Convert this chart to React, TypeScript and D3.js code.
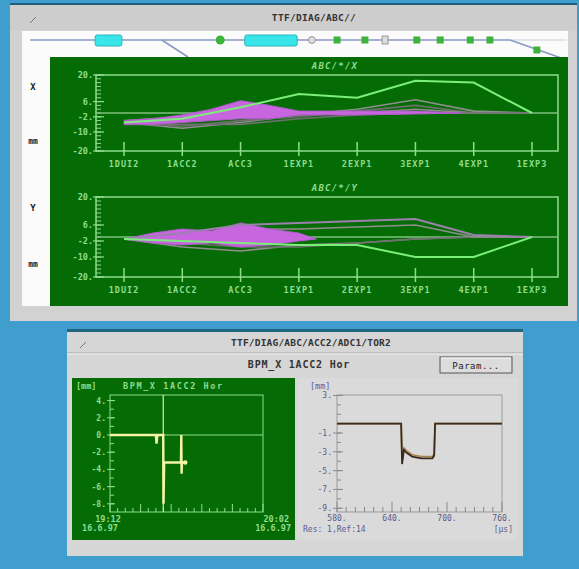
import React from 'react';
import * as d3 from 'd3';

const W = 579;
const H = 569;
const MONO = '"DejaVu Sans Mono", monospace';

// orbit overview: BPM sections along the linac
const sectionNames = ['1DUI2', '1ACC2', 'ACC3', '1EXP1', '2EXP1', '3EXP1', '4EXP1', '1EXP3'];
const orbitTicks = [20, 6, -2, -10, -20];

// horizontal plane (mm)
const xGreen = [-5, -3, 3, 10, 8, 17, 16, 0];
const xGrey = [
  [-5, -8, -5, -1, 2, 7, 1, 0],
  [-5, -7, -4, -2, 1, 4, 0, 0],
  [-4, -2, 1, 0, 0, 2, 0, 0],
  [-6, -6, -6, -3, -1, 0, 0, 0],
];
const xMagIdx = [0, 0.5, 1, 1.5, 2, 2.5, 3, 4, 5, 5.8];
const xMagUpper = [-4, -3, -1, 2, 6.5, 4, 1, 1, 1, 0];
const xMagLower = [-6, -6, -5, -4, -3, -3, -1, -1, -0.5, 0];

// vertical plane (mm)
const yGreen = [-1, -2, -3, -4, -4, -10, -10, 0];
const yGrey = [
  [-1, -5, -7, -4, -3, -1, 0, 0],
  [-1, -3, -5, -5, -3, -1, 0, 0],
  [-1, 1, 4, 4, 5, 6, 0, 0],
];
const yViolet = [-1, 2, 6, 7, 8, 9, 1, 0];
const yMagIdx = [0, 0.5, 1, 1.5, 2, 2.5, 3, 3.3];
const yMagUpper = [-1, 2, 4, 3, 7, 4, 2, -1];
const yMagLower = [-1, -3, -4, -3, -5, -4, -2, -1];

// beamline synoptic (position in % of linac length)
const blCavities = [[13.4, 18.3], [40.8, 50.4]];
const blGreenDots = [36.3];
const blGreyDots = [53.1];
const blGreenSquares = [57.7, 62.8, 72.3, 76.6, 82.1, 85.7];
const blGreySquares = [66.5];

// BPM time history (minutes after 19:12, mm)
const histT = [0, 15, 15.2, 15.5, 17.4, 17.5, 17.7, 17.9, 23.2, 23.3, 23.4, 23.5, 24.6];
const histV = [0, 0, -1, 0, 0, -8, -3.2, -3.2, -3.2, 0, -4.5, -3.2, -3.2];
const histCursor = 17.4;
const histTicks = [4, 2, 0, -2, -4, -6, -8];

// BPM raw signal (µs, mm)
const sigT = [580, 650, 651, 653, 656, 662, 672, 684, 686, 687, 760];
const sigV = [0, 0, -4.3, -2.8, -3.1, -3.5, -3.7, -3.7, -3.4, 0, 0];
const sigV2 = [0, 0, -4.0, -2.6, -2.9, -3.3, -3.5, -3.5, -3.2, 0, 0];
const sigYTicks = [3, -1, -3, -5, -7, -9];
const sigXTicks = [580, 640, 700, 760];

const LG = '#8fdc8f';

interface OrbitProps {
  title: string;
  top: number;
  bottom: number;
  green: number[];
  greys: number[][];
  violet?: number[];
  magIdx: number[];
  magUp: number[];
  magLo: number[];
}

const Orbit: React.FC<OrbitProps> = ({ title, top, bottom, green, greys, violet, magIdx, magUp, magLo }) => {
  const left = 96, right = 558;
  const x = d3.scaleLinear().domain([0, sectionNames.length - 1]).range([124, 532]);
  const y = d3.scaleLinear().domain([-20, 20]).range([bottom, top]);
  const line = d3.line<number>().x((_, i) => x(i)).y(d => y(d));
  const area = d3.area<number>().x((_, i) => x(magIdx[i])).y0((_, i) => y(magLo[i])).y1(d => y(d));
  const minor = d3.range(-20, 21, 2);
  return (
    <g>
      <text x={335} y={top - 6} fill={LG} fontSize={9} fontStyle="italic" fontWeight="bold" letterSpacing={1.2} textAnchor="middle" fontFamily={MONO}>{title}</text>
      <rect x={left} y={top} width={right - left} height={bottom - top} fill="none" stroke={LG} strokeWidth={1.5} />
      {minor.map(v => (
        <line key={v} x1={left} x2={left + 5} y1={y(v)} y2={y(v)} stroke={LG} strokeWidth={1} />
      ))}
      {orbitTicks.map(v => (
        <g key={v}>
          <line x1={left - 3} x2={left + 8} y1={y(v)} y2={y(v)} stroke={LG} strokeWidth={1.2} />
          <text x={left - 3} y={y(v) + 3} fill={LG} fontSize={8.5} fontWeight="bold" textAnchor="end" fontFamily={MONO}>{`${v}.`}</text>
        </g>
      ))}
      {sectionNames.map((n, i) => (
        <g key={n}>
          <line x1={x(i)} x2={x(i)} y1={bottom - 9} y2={bottom + 5} stroke={LG} strokeWidth={1.5} />
          <text x={x(i)} y={bottom + 16} fill={LG} fontSize={8.5} fontWeight="bold" letterSpacing={1} textAnchor="middle" fontFamily={MONO}>{n}</text>
        </g>
      ))}
      <line x1={left} x2={right} y1={y(0)} y2={y(0)} stroke="#7fbf7f" strokeWidth={1.5} />
      {greys.map((g, i) => (
        <path key={i} d={line(g) || ''} fill="none" stroke={i % 2 ? '#6f6f6f' : '#8e8e8e'} strokeWidth={1.6} />
      ))}
      <path d={area(magUp) || ''} fill="#c866e0" stroke="#b05ccc" strokeWidth={1} />
      {violet && <path d={line(violet) || ''} fill="none" stroke="#9c80ae" strokeWidth={2} />}
      <path d={line(green) || ''} fill="none" stroke="#7af07a" strokeWidth={2} />
    </g>
  );
};

const App: React.FC = () => {
  // beamline synoptic scale
  const bl = d3.scaleLinear().domain([0, 100]).range([22, 568]);
  const blY = 40;

  // history plot
  const hx = d3.scaleLinear().domain([0, 50]).range([110, 263]);
  const hy = d3.scaleLinear().domain([-8.95, 4.65]).range([512, 395]);
  const hLine = d3.line<number>().x((_, i) => hx(histT[i])).y(d => hy(d));

  // signal plot
  const sx = d3.scaleLinear().domain([580, 760]).range([337, 502]);
  const sy = d3.scaleLinear().domain([-9.4, 3.05]).range([512, 395]);
  const sLine = d3.line<number>().x((_, i) => sx(sigT[i])).y(d => sy(d));

  return (
    <svg width={W} height={H} style={{ position: 'fixed', left: 0, top: 0 }} fontFamily={MONO}>
      <rect width={W} height={H} fill="#3f9ecd" />

      {/* main window */}
      <rect x={10} y={3} width={567} height={2} fill="#1d5f7c" />
      <rect x={10} y={5} width={567} height={316} fill="#d2d2d2" />
      <rect x={10} y={5} width={567} height={25} fill="#cdcdcd" />
      <line x1={30} y1={23} x2={36} y2={17} stroke="#777" strokeWidth={1} />
      <text x={314} y={21} fontSize={9.5} fontWeight="bold" fill="#333" textAnchor="middle" letterSpacing={0.3}>TTF/DIAG/ABC//</text>
      <rect x={22} y={31} width={546} height={26} fill="#fbfbfb" />
      <line x1={bl(1.5)} x2={bl(89.4)} y1={blY} y2={blY} stroke="#8a98c4" strokeWidth={1.5} />
      <line x1={bl(89.4)} x2={bl(99.8)} y1={blY} y2={blY} stroke="#c8cde0" strokeWidth={1} />
      <line x1={bl(25.6)} x2={bl(30.4)} y1={blY} y2={57} stroke="#8a98c4" strokeWidth={1.5} />
      <line x1={bl(89.4)} x2={bl(99.8)} y1={blY} y2={60} stroke="#8a98c4" strokeWidth={1.5} />
      {blCavities.map(([a, b]) => (
        <rect key={a} x={bl(a)} y={blY - 5} width={bl(b) - bl(a)} height={11} rx={2} fill="#38e6ea" stroke="#2ab5c0" strokeWidth={1} />
      ))}
      {blGreenDots.map(s => <circle key={s} cx={bl(s)} cy={blY} r={4.5} fill="#3cb43c" />)}
      {blGreyDots.map(s => <circle key={s} cx={bl(s)} cy={blY} r={3.5} fill="#ddd" stroke="#999" />)}
      {blGreenSquares.map(s => <rect key={s} x={bl(s) - 3.5} y={blY - 3.5} width={7} height={7} fill="#3cb43c" />)}
      {blGreySquares.map(s => <rect key={s} x={bl(s) - 3} y={blY - 4} width={6} height={8} fill="#ddd" stroke="#999" />)}
      <rect x={bl(94.3) - 3.5} y={50 - 3.5} width={7} height={7} fill="#3cb43c" />

      <rect x={22} y={57} width={28} height={249} fill="#fbfbfb" />
      <rect x={50} y={57} width={518} height={249} fill="#056c05" />
      <text x={33} y={90} fontSize={9} fontWeight="bold" fill="#222" textAnchor="middle">X</text>
      <text x={33} y={144} fontSize={8} fontWeight="bold" fill="#222" textAnchor="middle">mm</text>
      <text x={33} y={211} fontSize={9} fontWeight="bold" fill="#222" textAnchor="middle">Y</text>
      <text x={33} y={267} fontSize={8} fontWeight="bold" fill="#222" textAnchor="middle">mm</text>

      <Orbit title="ABC/*/X" top={75} bottom={151} green={xGreen} greys={xGrey} magIdx={xMagIdx} magUp={xMagUpper} magLo={xMagLower} />
      <Orbit title="ABC/*/Y" top={197} bottom={277} green={yGreen} greys={yGrey} violet={yViolet} magIdx={yMagIdx} magUp={yMagUpper} magLo={yMagLower} />

      {/* BPM window */}
      <rect x={67} y={329} width={456} height={3} fill="#1f6682" />
      <rect x={67} y={332} width={456} height={224} fill="#d6d6d6" />
      <line x1={80} y1={348} x2={86} y2={342} stroke="#777" strokeWidth={1} />
      <text x={311} y={346} fontSize={9.5} fontWeight="bold" fill="#333" textAnchor="middle" letterSpacing={0.2}>TTF/DIAG/ABC/ACC2/ADC1/TOR2</text>
      <line x1={67} x2={523} y1={353} y2={353} stroke="#a6a6a6" strokeWidth={1} />
      <line x1={67} x2={523} y1={354} y2={354} stroke="#f2f2f2" strokeWidth={1} />
      <text x={299} y={368} fontSize={10} fontWeight="bold" fill="#333" textAnchor="middle" letterSpacing={0.8}>BPM_X 1ACC2 Hor</text>
      <rect x={440} y={357} width={72} height={16} fill="#dcdcdc" stroke="#555" strokeWidth={1} />
      <line x1={441} x2={511} y1={358} y2={358} stroke="#fff" />
      <text x={476} y={369} fontSize={9} fill="#222" textAnchor="middle" letterSpacing={0.5}>Param...</text>

      {/* history plot */}
      <rect x={72} y={378} width={223} height={162} fill="#056c05" />
      <text x={76} y={389} fontSize={8.5} fontWeight="bold" fill={LG}>[mm]</text>
      <text x={123} y={389} fontSize={8.5} fontWeight="bold" fill={LG} letterSpacing={1.6}>BPM_X 1ACC2 Hor</text>
      <rect x={110} y={395} width={153} height={117} fill="none" stroke={LG} strokeWidth={1} />
      {d3.range(-8, 5, 1).map(v => (
        <line key={v} x1={110} x2={114} y1={hy(v)} y2={hy(v)} stroke={LG} strokeWidth={1} />
      ))}
      {histTicks.map(v => (
        <g key={v}>
          <line x1={107} x2={115} y1={hy(v)} y2={hy(v)} stroke={LG} strokeWidth={1} />
          <text x={106} y={hy(v) + 3} fontSize={8} fontWeight="bold" fill={LG} textAnchor="end">{`${v}.`}</text>
        </g>
      ))}
      {d3.range(0, 50.1, 2.5).map(t => (
        <line key={t} x1={hx(t)} x2={hx(t)} y1={512} y2={t % 10 === 0 ? 504 : 508} stroke={LG} strokeWidth={1} />
      ))}
      <line x1={110} x2={263} y1={hy(0)} y2={hy(0)} stroke={LG} strokeWidth={1.2} />
      <line x1={hx(histCursor)} x2={hx(histCursor)} y1={395} y2={512} stroke="#d6efa8" strokeWidth={1.2} />
      <path d={hLine(histV) || ''} fill="none" stroke="#f5f3a6" strokeWidth={2.4} />
      <circle cx={hx(histT[histT.length - 1])} cy={hy(histV[histV.length - 1])} r={2.2} fill="#f5f3a6" />
      <text x={108} y={522} fontSize={8.5} fontWeight="bold" fill={LG} textAnchor="middle">19:12</text>
      <text x={100} y={531} fontSize={8.5} fontWeight="bold" fill={LG} textAnchor="middle">16.6.97</text>
      <text x={289} y={522} fontSize={8.5} fontWeight="bold" fill={LG} textAnchor="end">20:02</text>
      <text x={291} y={531} fontSize={8.5} fontWeight="bold" fill={LG} textAnchor="end">16.6.97</text>

      {/* signal plot */}
      <rect x={297} y={378} width={221} height={162} fill="#dadada" />
      <text x={310} y={389} fontSize={8.5} fill="#5b5ba0">[mm]</text>
      <rect x={337} y={395} width={165} height={117} fill="none" stroke="#9a9a9a" strokeWidth={1} />
      {d3.range(-9, 4, 1).map(v => (
        <line key={v} x1={337} x2={341} y1={sy(v)} y2={sy(v)} stroke="#8a8a8a" strokeWidth={1} />
      ))}
      {sigYTicks.map(v => (
        <g key={v}>
          <line x1={333} x2={343} y1={sy(v)} y2={sy(v)} stroke="#8a8a8a" strokeWidth={1} />
          <text x={332} y={sy(v) + 3} fontSize={8} fill="#5b5b8a" textAnchor="end">{`${v}.`}</text>
        </g>
      ))}
      {d3.range(580, 761, 10).map(t => (
        <line key={t} x1={sx(t)} x2={sx(t)} y1={512} y2={t % 60 === 40 ? 502 : 507} stroke="#8a8a8a" strokeWidth={1} />
      ))}
      {sigXTicks.map(t => (
        <text key={t} x={sx(t)} y={521} fontSize={8} fill="#5b5b8a" textAnchor="middle">{`${t}.`}</text>
      ))}
      <path d={sLine(sigV2) || ''} fill="none" stroke="#a8864e" strokeWidth={1.6} />
      <path d={sLine(sigV) || ''} fill="none" stroke="#3a2a1c" strokeWidth={1.8} />
      <text x={303} y={532} fontSize={8} fill="#5b5b8a">Res: 1,Ref:14</text>
      <text x={513} y={532} fontSize={8} fill="#5b5b8a" textAnchor="end">[µs]</text>
    </svg>
  );
};

export default App;
